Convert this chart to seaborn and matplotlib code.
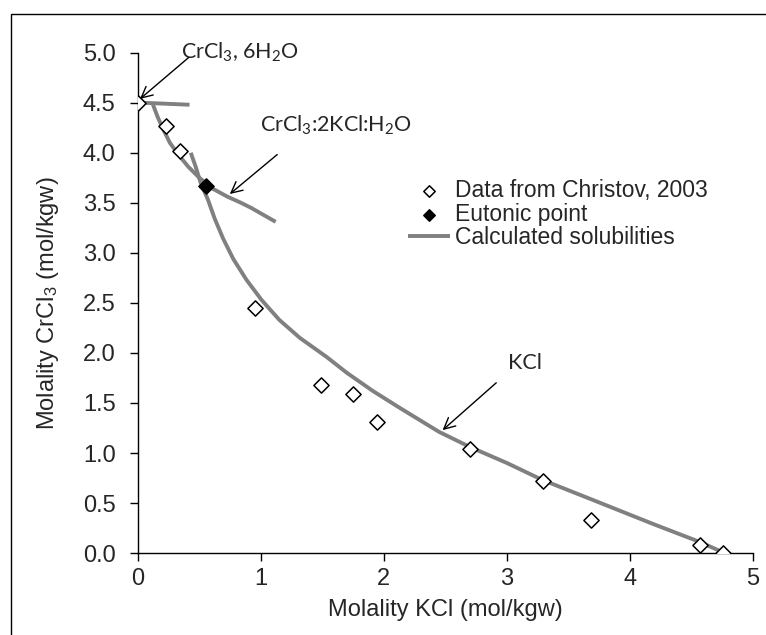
import numpy as np
import pandas as pd
import matplotlib
matplotlib.use("Agg")
import matplotlib.pyplot as plt
import seaborn as sns

# measured points (Christov, 2003)
data_kcl = [0.0, 0.23, 0.34, 0.95, 1.49, 1.75, 1.94, 2.70, 3.29, 3.68, 4.57, 4.76]
data_crcl3 = [4.50, 4.27, 4.02, 2.45, 1.68, 1.59, 1.31, 1.04, 0.72, 0.33, 0.08, 0.0]

# eutonic point
eut_kcl = [0.55]
eut_crcl3 = [3.67]

# calculated solubility branches
hexa_kcl = [0.04, 0.42]
hexa_crcl3 = [4.50, 4.48]

double_kcl = [0.12, 0.16, 0.20, 0.26, 0.33, 0.41, 0.50, 0.61, 0.73, 0.83, 0.92, 1.12]
double_crcl3 = [4.49, 4.36, 4.25, 4.10, 3.98, 3.86, 3.75, 3.64, 3.56, 3.505, 3.45, 3.31]

kcl_kcl = [0.43, 0.47, 0.51, 0.57, 0.625, 0.694, 0.775, 0.883, 1.005, 1.15, 1.317,
           1.534, 1.70, 1.91, 2.13, 2.45, 2.70, 3.00, 3.29, 3.68, 4.19, 4.57, 4.77]
kcl_crcl3 = [4.00, 3.86, 3.70, 3.53, 3.34, 3.14, 2.94, 2.73, 2.53, 2.33, 2.15,
             1.96, 1.80, 1.62, 1.45, 1.21, 1.06, 0.90, 0.73, 0.54, 0.29, 0.11, 0.0]

sns.set_style("ticks")
plt.rcParams['font.family'] = ['Liberation Sans', 'DejaVu Sans']
plt.rcParams['mathtext.default'] = 'regular'

fig = plt.figure(figsize=(7.66, 6.35), dpi=100)
ax = fig.add_axes([0.180, 0.129, 0.803, 0.788])

gray = '#808080'
branches = [(hexa_kcl, hexa_crcl3), (double_kcl, double_crcl3), (kcl_kcl, kcl_crcl3)]
for i, (bx, by) in enumerate(branches):
    df_b = pd.DataFrame({'x': bx, 'y': by})
    sns.lineplot(data=df_b, x='x', y='y', sort=False, color=gray, lw=2.8, ax=ax,
                 label='Calculated solubilities' if i == 2 else None, zorder=2)
for ln in ax.lines:
    ln.set_solid_joinstyle('round')
    ln.set_solid_capstyle('butt')

df_data = pd.DataFrame({'x': data_kcl, 'y': data_crcl3})
sns.scatterplot(data=df_data, x='x', y='y', marker='D', s=60, facecolor='white',
                edgecolor='black', linewidth=1.1, ax=ax, zorder=3,
                label='Data from Christov, 2003')
df_eut = pd.DataFrame({'x': eut_kcl, 'y': eut_crcl3})
sns.scatterplot(data=df_eut, x='x', y='y', marker='D', s=60, color='black',
                edgecolor='black', linewidth=1.1, ax=ax, zorder=4,
                label='Eutonic point')

# annotations
lab_font = ['Lato', 'DejaVu Sans']
arrow = dict(arrowstyle='->', color='black', lw=1, mutation_scale=20)
ax.text(0.35, 5.0, 'CrCl$_3$, 6H$_2$O', family=lab_font, fontsize=15.5, va='center',
        clip_on=False)
ax.annotate('', xy=(0.0, 4.52), xytext=(0.43, 4.97), arrowprops=arrow)
ax.text(0.99, 4.27, 'CrCl$_3$:2KCl:H$_2$O', family=lab_font, fontsize=15.5, va='center')
ax.annotate('', xy=(0.73, 3.57), xytext=(1.15, 4.0), arrowprops=arrow)
ax.text(3.01, 1.9, 'KCl', family=lab_font, fontsize=15.5, va='center')
ax.annotate('', xy=(2.46, 1.21), xytext=(2.93, 1.72), arrowprops=arrow)

ax.set_xlim(0, 5)
ax.set_ylim(0, 5)
ax.set_xticks(np.arange(0, 6, 1))
ax.set_yticks(np.arange(0, 5.01, 0.5))
ax.set_yticklabels([f'{v:.1f}' for v in np.arange(0, 5.01, 0.5)])
ax.tick_params(labelsize=17, length=6, width=1, direction='out', color='black', pad=5)
ax.tick_params(axis='y', pad=10)
ax.set_xlabel('Molality KCl (mol/kgw)', fontsize=17, labelpad=6)
ax.set_ylabel('Molality CrCl$_3$ (mol/kgw)', fontsize=17, labelpad=16)
sns.despine(ax=ax)
for sp in ['left', 'bottom']:
    ax.spines[sp].set_color('black')
    ax.spines[sp].set_linewidth(1)

handles, labels = ax.get_legend_handles_labels()
order = [labels.index('Data from Christov, 2003'), labels.index('Eutonic point'),
         labels.index('Calculated solubilities')]
ax.legend([handles[i] for i in order], [labels[i] for i in order], frameon=False,
          fontsize=16.5, loc='upper left', bbox_to_anchor=(0.425, 0.765),
          handlelength=1.8, handletextpad=0.25, labelspacing=0.02, markerscale=0.75,
          borderaxespad=0)

# outer border of the chart area
fig.add_artist(plt.Rectangle((0.0144, -0.2), 1.2, 0.978 + 0.2, transform=fig.transFigure,
                             fill=False, edgecolor='black', lw=1))

fig.savefig('out.png', dpi=100)
